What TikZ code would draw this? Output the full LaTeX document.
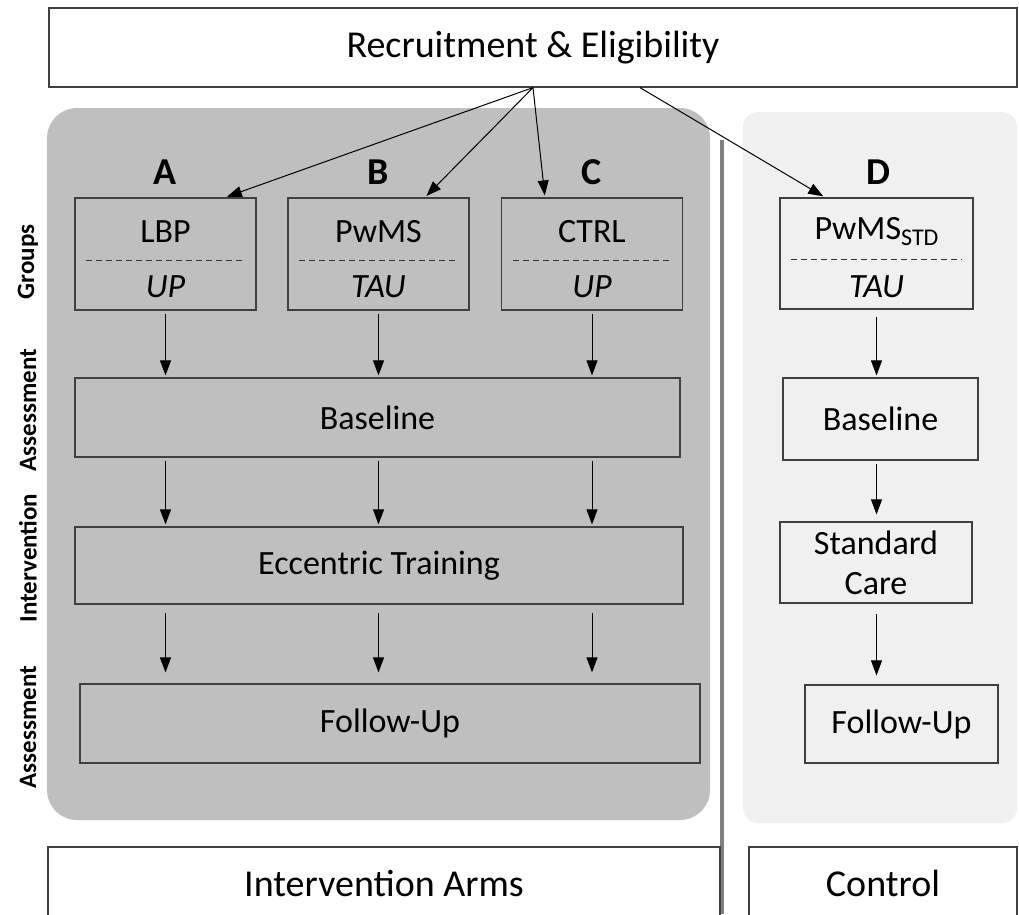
\documentclass[tikz,border=0pt]{standalone}
\usepackage{fontspec}
\setmainfont{Carlito}
\usetikzlibrary{arrows.meta,positioning}

\tikzset{
    box/.style={rectangle, draw=black!75, line width=1.2pt, inner sep=0pt, align=center, font=\fontsize{34}{40}\selectfont},
    arr/.style={-{Triangle[length=15pt,width=11pt]}, line width=1pt, shorten <=3pt, shorten >=2pt},
    armlabel/.style={font=\bfseries\fontsize{38}{44}\selectfont},
    phase/.style={rotate=90, font=\bfseries\fontsize{25}{28}\selectfont},
    sep/.style={dash pattern=on 6pt off 4pt, line width=1pt, black!80},
}

\begin{document}
\begin{tikzpicture}[x=1pt, y=-1pt]
    \useasboundingbox (0,0) rectangle (1019,914);

    % Panels
    \fill[black!25, rounded corners=30pt] (47,108) rectangle (710,820);
    \fill[black!6, rounded corners=15pt] (743,112) rectangle (1017,823);
    \draw[black!50, line width=4pt] (722,140) -- (722,914);

    % Recruitment
    \node[box, fill=white, minimum width=968pt, minimum height=79pt, font=\fontsize{38}{44}\selectfont] (recruit) at (533,47.5) {Recruitment \& Eligibility};

    % Groups A-C
    \foreach \n/\x/\lab/\gt/\gb in {lbp/165.5/A/LBP/UP, pwms/378.5/B/PwMS/TAU, ctrl/592/C/CTRL/UP} {
        \node[box, minimum width=181pt, minimum height=112pt] (\n) at (\x,254) {};
        \node[armlabel] (\n-lab) at (\x,172) {\lab};
        \node[font=\fontsize{34}{40}\selectfont] (\n-top) at ([yshift=22pt]\n.center) {\gt};
        \node[font=\itshape\fontsize{34}{40}\selectfont] (\n-bot) at ([yshift=-33pt]\n.center) {\gb};
        \draw[sep] ([xshift=12pt, yshift=-6pt]\n.west) -- ([xshift=-12pt, yshift=-6pt]\n.east);
    }

    % Group D
    \node[box, minimum width=193pt, minimum height=111pt] (std) at (876.5,253.5) {};
    \node[armlabel] (std-lab) at (878,172) {D};
    \node[font=\fontsize{34}{40}\selectfont] (std-top) at ([yshift=22pt]std.center) {PwMS\raisebox{-6pt}{\fontsize{24}{24}\selectfont STD}};
    \node[font=\itshape\fontsize{34}{40}\selectfont] (std-bot) at ([yshift=-33pt]std.center) {TAU};
    \draw[sep] ([xshift=12pt, yshift=-6pt]std.west) -- ([xshift=-12pt, yshift=-6pt]std.east);

    % Intervention arms
    \node[box, minimum width=605pt, minimum height=79pt] (base) at (377.5,417.5) {Baseline};
    \node[box, minimum width=608pt, minimum height=77pt] (ecc) at (379,565.5) {Eccentric Training};
    \node[box, minimum width=620pt, minimum height=79pt] (follow) at (390,723.5) {Follow-Up};

    % Control arm
    \node[box, minimum width=195pt, minimum height=82pt] (baseR) at (880.5,419) {Baseline};
    \node[box, minimum width=192pt, minimum height=81pt] (care) at (876,562.5) {Standard\\Care};
    \node[box, minimum width=193pt, minimum height=78pt] (followR) at (901.5,724) {Follow-Up};

    % Bottom
    \node[box, fill=white, minimum width=672pt, minimum height=72pt, font=\fontsize{38}{44}\selectfont] (arms) at (384,883) {Intervention Arms};
    \node[box, fill=white, minimum width=268pt, minimum height=72pt, font=\fontsize{38}{44}\selectfont] (ctrlarm) at (883,883) {Control};

    % Phases
    \node[phase] (pgroups) at (28,262) {Groups};
    \node[phase] (pbase) at (28,410) {Assessment};
    \node[phase] (ptrain) at (28,558) {Intervention};
    \node[phase] (pfollow) at (28,727) {Assessment};

    % Arrows
    \foreach \n/\dx/\sx in {lbp/59.5/0, pwms/46.5/0, ctrl/-47/0, std/-51.5/107}
        \draw[arr, shorten <=0pt] ([xshift=\sx pt]recruit.south) -- ([xshift=\dx pt]\n.north);
    \foreach \n in {lbp,pwms,ctrl} {
        \draw[arr] (\n.south) -- (\n.south |- base.north);
        \draw[arr] (\n.south |- base.south) -- (\n.south |- ecc.north);
        \draw[arr, shorten <=8pt, shorten >=11pt] (\n.south |- ecc.south) -- (\n.south |- follow.north);
    }
    \draw[arr, shorten <=7pt] (std.south) -- (std.south |- baseR.north);
    \draw[arr, shorten >=7pt] (std.south |- baseR.south) -- (std.south |- care.north);
    \draw[arr, shorten <=10pt, shorten >=9pt] (std.south |- care.south) -- (std.south |- followR.north);
\end{tikzpicture}
\end{document}
